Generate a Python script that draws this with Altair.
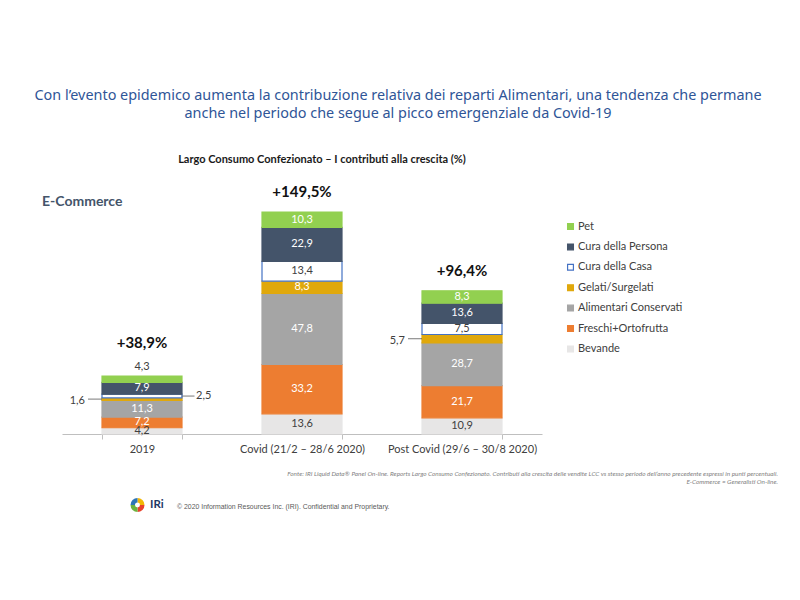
import altair as alt
import pandas as pd

# ---------------- data ----------------
categories = ["2019", "Covid (21/2 – 28/6 2020)", "Post Covid (29/6 – 30/8 2020)"]
series_names = ["Bevande", "Freschi+Ortofrutta", "Alimentari Conservati",
                "Gelati/Surgelati", "Cura della Casa", "Cura della Persona", "Pet"]
values_2019 = [4.2, 7.2, 11.3, 1.6, 2.5, 7.9, 4.3]
values_covid = [13.6, 33.2, 47.8, 8.3, 13.4, 22.9, 10.3]
values_post = [10.9, 21.7, 28.7, 5.7, 7.5, 13.6, 8.3]
totals = [38.9, 149.5, 96.4]
total_labels = ["+38,9%", "+149,5%", "+96,4%"]

# label placement exceptions (which segments carry their label outside the bar)
outside_left = [("2019", "Gelati/Surgelati"), ("Post Covid (29/6 – 30/8 2020)", "Gelati/Surgelati")]
outside_right = [("2019", "Cura della Casa")]
above = [("2019", "Pet")]

legend_order = list(reversed(series_names))
fill_colors = {"Pet": "#92D050", "Cura della Persona": "#44546A", "Cura della Casa": "#FFFFFF",
               "Gelati/Surgelati": "#E0A80C", "Alimentari Conservati": "#A5A5A5",
               "Freschi+Ortofrutta": "#ED7D31", "Bevande": "#E7E6E6"}
stroke_colors = dict(fill_colors)
stroke_colors["Cura della Casa"] = "#4472C4"

rows = []
for cat, vals in zip(categories, [values_2019, values_covid, values_post]):
    base = 0.0
    for i, (s, v) in enumerate(zip(series_names, vals)):
        place = "inside"
        if (cat, s) in outside_left:
            place = "left"
        elif (cat, s) in outside_right:
            place = "right"
        elif (cat, s) in above:
            place = "above"
        rows.append(dict(cat=cat, series=s, value=v, y0=base, y1=base + v,
                         mid=base + v / 2, label=f"{v:.1f}".replace(".", ","),
                         place=place, idx=i))
        base += v
df = pd.DataFrame(rows)
df_tot = pd.DataFrame(dict(cat=categories, total=totals, label=total_labels))

FONT = "Lato"
xenc = alt.X("cat:N", sort=categories, title=None,
             scale=alt.Scale(domain=categories, paddingInner=0.5, paddingOuter=0.25),
             axis=alt.Axis(labelAngle=0, tickBand="extent", domainColor="#BFBFBF",
                           tickColor="#BFBFBF", tickSize=5, labelFont=FONT, labelFontSize=11,
                           labelColor="#404040", labelPadding=4, grid=False))
yscale = alt.Scale(domain=[0, 200])

legend = alt.Legend(title=None, orient="none", legendX=503, legendY=84, symbolType="square",
                    symbolSize=34, symbolStrokeWidth=1.2, labelFont=FONT, labelFontSize=11,
                    labelColor="#404040", rowPadding=8.4, labelOffset=2)

bars = alt.Chart(df).mark_bar(strokeWidth=1.2).encode(
    x=xenc,
    y=alt.Y("y0:Q", scale=yscale, axis=None),
    y2="y1:Q",
    color=alt.Color("series:N", scale=alt.Scale(domain=legend_order,
                    range=[fill_colors[s] for s in legend_order]), legend=legend),
    stroke=alt.Stroke("series:N", scale=alt.Scale(domain=legend_order,
                      range=[stroke_colors[s] for s in legend_order]), legend=legend),
)

inside = alt.Chart(df).transform_filter("datum.place === 'inside'").mark_text(
    font=FONT, fontSize=11, baseline="middle").encode(
    x=alt.X("cat:N", sort=categories),
    y=alt.Y("mid:Q", scale=yscale),
    text="label:N",
    color=alt.condition("datum.series === 'Bevande' || datum.series === 'Cura della Casa'",
                        alt.value("#404040"), alt.value("#FFFFFF")),
)

left_txt = alt.Chart(df).transform_filter("datum.place === 'left'").mark_text(
    font=FONT, fontSize=11, baseline="middle", align="right", dx=-57, dy=2, color="#404040").encode(
    x=alt.X("cat:N", sort=categories), y=alt.Y("mid:Q", scale=yscale), text="label:N")
left_tick = alt.Chart(df).transform_filter("datum.place === 'left'").mark_tick(
    orient="horizontal", size=14, thickness=1, xOffset=-47, color="#404040").encode(
    x=alt.X("cat:N", sort=categories), y=alt.Y("mid:Q", scale=yscale))

right_txt = alt.Chart(df).transform_filter("datum.place === 'right'").mark_text(
    font=FONT, fontSize=11, baseline="middle", align="left", dx=54, color="#404040").encode(
    x=alt.X("cat:N", sort=categories), y=alt.Y("mid:Q", scale=yscale), text="label:N")
right_tick = alt.Chart(df).transform_filter("datum.place === 'right'").mark_tick(
    orient="horizontal", size=13, thickness=1, xOffset=46, color="#404040").encode(
    x=alt.X("cat:N", sort=categories), y=alt.Y("mid:Q", scale=yscale))

above_txt = alt.Chart(df).transform_filter("datum.place === 'above'").mark_text(
    font=FONT, fontSize=11, baseline="middle", dy=-9, color="#404040").encode(
    x=alt.X("cat:N", sort=categories), y=alt.Y("y1:Q", scale=yscale), text="label:N")

tot_a = alt.Chart(df_tot).transform_filter("datum.cat === '2019'").mark_text(
    font=FONT, fontSize=15, fontWeight="bold", baseline="middle", dy=-33, color="#111111").encode(
    x=alt.X("cat:N", sort=categories), y=alt.Y("total:Q", scale=yscale), text="label:N")
tot_b = alt.Chart(df_tot).transform_filter("datum.cat !== '2019'").mark_text(
    font=FONT, fontSize=15, fontWeight="bold", baseline="middle", dy=-20, color="#111111").encode(
    x=alt.X("cat:N", sort=categories), y=alt.Y("total:Q", scale=yscale), text="label:N")

one = pd.DataFrame({"k": [0]})


def note(text, x, y, **kw):
    return alt.Chart(one).mark_text(**kw).encode(x=alt.value(x), y=alt.value(y), text=alt.value(text))


subtitle = note("Largo Consumo Confezionato – I contributi alla crescita (%)", 260, 23,
                font=FONT, fontSize=11, fontWeight="bold", color="#1A1A1A", baseline="middle")
ecomm = note("E-Commerce", -20, 65, font=FONT, fontSize=14, fontWeight="bold",
             color="#44546A", align="left", baseline="middle")
foot1 = note("Fonte: IRI Liquid Data® Panel On-line. Reports Largo Consumo Confezionato. Contributi alla crescita delle vendite LCC vs stesso periodo dell’anno precedente espressi in punti percentuali.",
             716, 337, font=FONT, fontSize=6.4, fontStyle="italic", color="#7F7F7F",
             align="right", baseline="middle")
foot2 = note("E-Commerce = Generalisti On-line.", 716, 345, font=FONT, fontSize=6.4,
             fontStyle="italic", color="#7F7F7F", align="right", baseline="middle")
copyr = note("© 2020  Information Resources Inc. (IRI). Confidential and Proprietary.", 115, 370,
             font="Liberation Sans", fontSize=6.9, color="#595959", align="left", baseline="middle")
iri = note("IRi", 88, 368, font=FONT, fontSize=11.5, fontWeight="bold", color="#1F3864",
           align="left", baseline="middle")

logo_parts = []
for t0, t1, c in [(0.0, 1.57, "#F2B705"), (1.57, 3.14, "#E8412C"), (3.14, 4.71, "#6DB33F"), (4.71, 6.28, "#2E75B6")]:
    logo_parts.append(alt.Chart(one).mark_arc(theta=t0, theta2=t1, radius=7, innerRadius=2.5, color=c)
                      .encode(x=alt.value(75.5), y=alt.value(368)))

chart = alt.layer(bars, inside, left_tick, left_txt, right_tick, right_txt, above_txt, tot_a, tot_b,
                  subtitle, ecomm, foot1, foot2, copyr, iri, *logo_parts).properties(
    width=480, height=297,
    autosize=alt.AutoSizeParams(type="none"),
    padding={"left": 54, "top": 129, "right": 250, "bottom": 158},
    title=alt.Title(["Con l’evento epidemico aumenta la contribuzione relativa dei reparti Alimentari, una tendenza che permane",
                     "anche nel periodo che segue al picco emergenziale da Covid-19"],
                    font="Noto Sans", fontSize=14.4, fontWeight="normal", color="#2F5597",
                    anchor="middle", dx=96, offset=16, lineHeight=18),
).configure_view(strokeWidth=0)

chart.save("out.html", embed_options={"renderer": "svg", "actions": False})
